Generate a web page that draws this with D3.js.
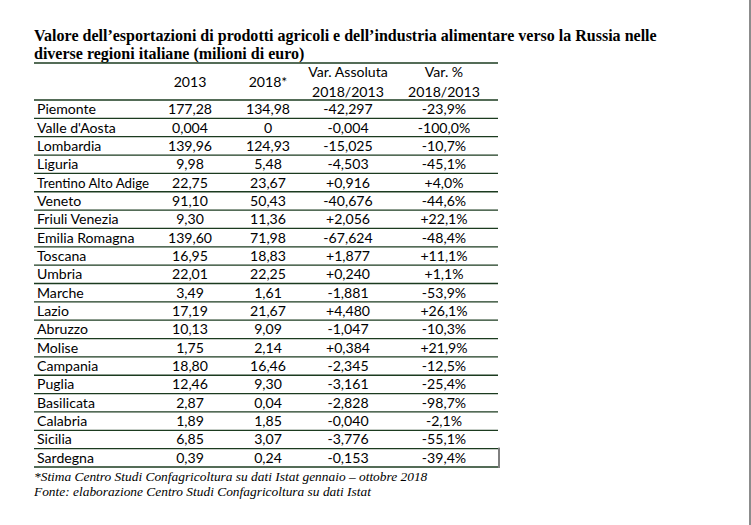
<!DOCTYPE html>
<html><head><meta charset="utf-8">
<script src="https://cdn.jsdelivr.net/npm/d3@7"></script>
<style>
html,body{margin:0;padding:0;background:#fff;}
svg{display:block;}
</style></head>
<body>
<script>
const titleLines = ["Valore dell\u2019esportazioni di prodotti agricoli e dell\u2019industria alimentare verso la Russia nelle",
                    "diverse regioni italiane (milioni di euro)"];
const regions = ["Piemonte","Valle d'Aosta","Lombardia","Liguria","Trentino Alto Adige","Veneto","Friuli Venezia",
  "Emilia Romagna","Toscana","Umbria","Marche","Lazio","Abruzzo","Molise","Campania","Puglia","Basilicata",
  "Calabria","Sicilia","Sardegna"];
const v2013 = [177.28,0.004,139.96,9.98,22.75,91.10,9.30,139.60,16.95,22.01,3.49,17.19,10.13,1.75,18.80,12.46,2.87,1.89,6.85,0.39];
const v2018 = [134.98,0,124.93,5.48,23.67,50.43,11.36,71.98,18.83,22.25,1.61,21.67,9.09,2.14,16.46,9.30,0.04,1.85,3.07,0.24];
const varAbs = [-42.297,-0.004,-15.025,-4.503,0.916,-40.676,2.056,-67.624,1.877,0.240,-1.881,4.480,-1.047,0.384,-2.345,-3.161,-2.828,-0.040,-3.776,-0.153];
const varPct = [-23.9,-100.0,-10.7,-45.1,4.0,-44.6,22.1,-48.4,11.1,1.1,-53.9,26.1,-10.3,21.9,-12.5,-25.4,-98.7,-2.1,-55.1,-39.4];
const columns = ["region","v2013","v2018","varAbs","varPct"];
const headerTop = ["", "", "", "Var. Assoluta", "Var. %"];
const headerMid = ["", "2013", "2018*", "", ""];
const headerBot = ["", "", "", "2018/2013", "2018/2013"];
const notes = ["*Stima Centro Studi Confagricoltura su dati Istat gennaio \u2013 ottobre 2018",
               "Fonte: elaborazione Centro Studi Confagricoltura su dati Istat"];

const W = 751, H = 525;
const loc = d3.formatLocale({decimal: ",", thousands: ".", grouping: [3], currency: ["", "€"]});
const f2 = loc.format(".2f"), f3 = loc.format(".3f"), f3s = loc.format("+.3f"), f1s = loc.format("+.1f");
const fmtVal = v => v === 0 ? "0" : (Math.abs(v) < 0.01 ? f3(v) : f2(v));
const fmtAbs = v => f3s(v).replace("\u2212", "-");
const fmtPct = v => f1s(v).replace("\u2212", "-") + "%";

const rows = regions.map((r, i) => ({
  region: r, v2013: fmtVal(v2013[i]), v2018: fmtVal(v2018[i]), varAbs: fmtAbs(varAbs[i]), varPct: fmtPct(varPct[i])
}));

const svg = d3.select("body").append("svg").attr("width", W).attr("height", H);
svg.append("rect").attr("width", W).attr("height", H).attr("fill", "#fff");
svg.append("rect").attr("x", 749).attr("y", 0).attr("width", 2).attr("height", H).attr("fill", "#8c8c8c");

const tableLeft = 34, tableRight = 498;
const x = d3.scaleOrdinal().domain(columns).range([37, 190, 268, 348, 444]);
const y = d3.scaleBand().domain(regions).range([100, 467]);
const lineColor = "#1b3b1f";
const bodyFont = "Lato, 'Open Sans', sans-serif";
const bfs = 14.1;

// Title
const title = svg.append("g");
titleLines.forEach((t, i) => {
  title.append("text").attr("x", tableLeft).attr("y", 41 + i * 17.5)
    .attr("font-family", "'Liberation Serif', 'Times New Roman', serif").attr("font-weight", "bold")
    .attr("font-size", 18.5).attr("fill", "#000").text(t);
});
const tw = title.select("text").node().getComputedTextLength();
title.selectAll("text").attr("font-size", 18.5 * 623 / tw);

// lines
const hLines = [63, ...y.domain().map(d => y(d)), y.range()[1]];
svg.append("g").selectAll("line").data(hLines).join("line")
  .attr("x1", tableLeft).attr("x2", tableRight).attr("y1", d => d).attr("y2", d => d)
  .attr("stroke", lineColor).attr("stroke-width", 1.3);

// header
const hdr = svg.append("g").attr("font-family", bodyFont).attr("font-size", bfs).attr("fill", "#000").attr("text-anchor", "middle");
columns.forEach((c, i) => {
  if (headerTop[i]) hdr.append("text").attr("x", x(c)).attr("y", 77).text(headerTop[i]);
  if (headerMid[i]) hdr.append("text").attr("x", x(c)).attr("y", 87).text(headerMid[i]);
  if (headerBot[i]) hdr.append("text").attr("x", x(c)).attr("y", 97).text(headerBot[i]);
});

// body rows
const body = svg.append("g").attr("font-family", bodyFont).attr("font-size", bfs).attr("fill", "#000");
const rowG = body.selectAll("g").data(rows).join("g")
  .attr("transform", d => `translate(0,${y(d.region) + y.bandwidth() / 2 + 5})`);
columns.forEach(c => {
  const t = rowG.append("text").attr("x", x(c)).attr("text-anchor", c === "region" ? "start" : "middle").text(d => d[c]);
  if (c === "region") {
    t.each(function() {
      const w = this.getComputedTextLength();
      if (w > 112) d3.select(this).attr("textLength", 112).attr("lengthAdjust", "spacingAndGlyphs");
    });
  }
});

// cursor mark
svg.append("line").attr("x1", 499).attr("x2", 499).attr("y1", y("Sardegna") - 1).attr("y2", y.range()[1] + 1)
  .attr("stroke", "#000").attr("stroke-width", 1);

// notes
svg.append("g").selectAll("text").data(notes).join("text")
  .attr("x", tableLeft).attr("y", (d, i) => 481 + i * 15)
  .attr("font-family", "'Liberation Serif', 'Times New Roman', serif").attr("font-style", "italic")
  .attr("font-size", 13.4).attr("fill", "#000").text(d => d);
</script>
</body></html>
